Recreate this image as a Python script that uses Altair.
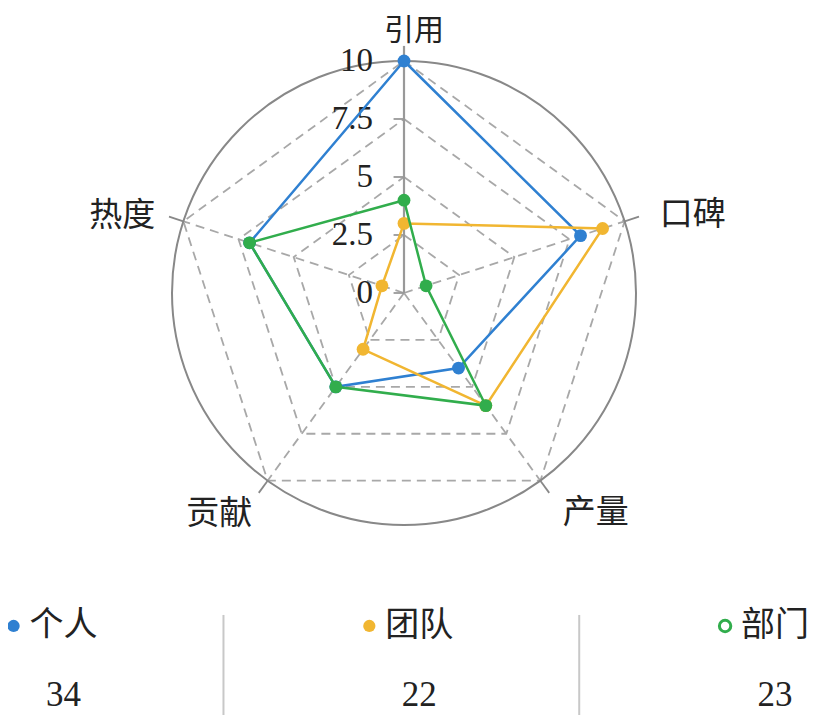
import altair as alt
import pandas as pd

# ---------------- data ----------------
dims = ["引用", "口碑", "产量", "贡献", "热度"]
series = ["个人", "团队", "部门"]
vals_person = [10, 8, 4, 5, 7]
vals_team = [3, 9, 6, 3, 1]
vals_dept = [4, 1, 6, 5, 7]
totals = [34, 22, 23]
ticks = [0, 2.5, 5, 7.5, 10]
grid_levels = [2.5, 5, 7.5, 10]
colors = ["#2f80d1", "#f1b631", "#31ad4c"]
RMAX = 10

# ---------------- frames ----------------
ser_rows = []
for s, vals in zip(series, [vals_person, vals_team, vals_dept]):
    for k in range(6):
        ser_rows.append({"series": s, "k": k, "value": vals[k % 5]})
ser_df = pd.DataFrame(ser_rows)

grid_df = pd.DataFrame([{"level": lv, "k": k} for lv in grid_levels for k in range(6)])
dim_df = pd.DataFrame({"dim": dims, "k": list(range(5))})
tick_df = pd.DataFrame({"t": ticks, "lab": [f"{t:g}" for t in ticks]})
leg_df = pd.DataFrame({"series": series, "li": [0, 1, 2], "total": [str(t) for t in totals]})
sep_df = pd.DataFrame({"sx": [0.45, 1.45]})
one_df = pd.DataFrame({"o": [0]})

# ---------------- scales ----------------
xs = alt.Scale(domain=[-17.069, 17.543], nice=False, zero=False)
ys = alt.Scale(domain=[-18.190, 12.284], nice=False, zero=False)
lxs = alt.Scale(domain=[-0.1557, 2.1015], nice=False, zero=False)
lys = alt.Scale(domain=[-8.957, 1.290], nice=False, zero=False, reverse=True)
cscale = alt.Scale(domain=series, range=colors)

ANG = "PI/2 - 2*PI*datum.k/5"
CJK = "Noto Sans CJK SC"
SERIF = "Liberation Serif"

def X(f):
    return alt.X(f, type="quantitative", scale=xs, axis=None)

def Y(f):
    return alt.Y(f, type="quantitative", scale=ys, axis=None)

layers = []

# dashed pentagon grid
layers.append(
    alt.Chart(grid_df).transform_calculate(
        ang=ANG, gx="datum.level*cos(datum.ang)", gy="datum.level*sin(datum.ang)"
    ).mark_line(stroke="#a8a8a8", strokeWidth=1.8, strokeDash=[9, 6]).encode(
        x=X("gx"), y=Y("gy"), detail="level:N", order="k:Q"
    )
)

# dashed spokes (non-top)
layers.append(
    alt.Chart(dim_df).transform_filter("datum.k > 0").transform_calculate(
        ang=ANG, x0="0", y0="0",
        sx=f"{RMAX}*cos(datum.ang)", sy=f"{RMAX}*sin(datum.ang)"
    ).mark_rule(stroke="#a8a8a8", strokeWidth=1.8, strokeDash=[9, 6]).encode(
        x=X("x0"), y=Y("y0"), x2="sx:Q", y2="sy:Q"
    )
)

# outer circle
layers.append(
    alt.Chart(one_df).transform_calculate(cx="0", cy="0").mark_point(
        shape="circle", size=(2 * RMAX * 23.2) ** 2, filled=False,
        stroke="#888888", strokeWidth=2, opacity=1
    ).encode(x=X("cx"), y=Y("cy"))
)

# angular ticks beyond circle
layers.append(
    alt.Chart(dim_df).transform_calculate(
        ang=ANG,
        ax1=f"{RMAX}*cos(datum.ang)", ay1=f"{RMAX}*sin(datum.ang)",
        ax2=f"{RMAX + 0.65}*cos(datum.ang)", ay2=f"{RMAX + 0.65}*sin(datum.ang)",
    ).mark_rule(stroke="#888888", strokeWidth=1.8).encode(
        x=X("ax1"), y=Y("ay1"), x2="ax2:Q", y2="ay2:Q"
    )
)

# radial axis line (top)
layers.append(
    alt.Chart(one_df).transform_calculate(a0="0", b0="0", b1=f"{RMAX + 0.65}").mark_rule(
        stroke="#999999", strokeWidth=2.2
    ).encode(x=X("a0"), y=Y("b0"), y2="b1:Q")
)

# radial tick marks
layers.append(
    alt.Chart(tick_df).transform_calculate(t0="-0.45", t1="0").mark_rule(
        stroke="#999999", strokeWidth=1.8
    ).encode(x=X("t0"), x2="t1:Q", y=Y("t"))
)

# radial tick labels
layers.append(
    alt.Chart(tick_df).transform_calculate(zx="0").mark_text(
        align="right", baseline="middle", dx=-31, font=SERIF, fontSize=33, color="#222222"
    ).encode(x=X("zx"), y=Y("t"), text="lab:N")
)

# dimension labels
LR = 11.5
lab_base = alt.Chart(dim_df).transform_calculate(
    ang=ANG, lx=f"{LR}*cos(datum.ang)", ly=f"{LR}*sin(datum.ang)"
)
layers.append(
    lab_base.transform_filter("datum.k == 0").mark_text(
        align="center", baseline="middle", dx=10, dy=5, font=CJK, fontSize=30, color="#222222"
    ).encode(x=X("lx"), y=Y("ly"), text="dim:N")
)
layers.append(
    lab_base.transform_filter("datum.k == 1 || datum.k == 2").mark_text(
        align="left", baseline="middle", dx=2, dy=4, font=CJK, fontSize=33, color="#222222"
    ).encode(x=X("lx"), y=Y("ly"), text="dim:N")
)
layers.append(
    lab_base.transform_filter("datum.k == 3 || datum.k == 4").mark_text(
        align="right", baseline="middle", dx=5, dy=5, font=CJK, fontSize=33, color="#222222"
    ).encode(x=X("lx"), y=Y("ly"), text="dim:N")
)

# series polygons + points
for s in series:
    base = alt.Chart(ser_df).transform_filter(alt.datum.series == s).transform_calculate(
        ang=ANG, px="datum.value*cos(datum.ang)", py="datum.value*sin(datum.ang)"
    )
    layers.append(
        base.mark_line(strokeWidth=2.5).encode(
            x=X("px"), y=Y("py"), order="k:Q",
            color=alt.Color("series:N", scale=cscale, legend=None)
        )
    )
    layers.append(
        base.transform_filter("datum.k < 5").mark_circle(size=165, opacity=1).encode(
            x=X("px"), y=Y("py"),
            color=alt.Color("series:N", scale=cscale, legend=None)
        )
    )

# ---------------- custom legend ----------------
def LX(f):
    return alt.X(f, type="quantitative", scale=lxs, axis=None)

def LY(f):
    return alt.Y(f, type="quantitative", scale=lys, axis=None)

leg_base = alt.Chart(leg_df).transform_calculate(
    dotx="datum.li - 0.14", r0="0", r1="1"
)
layers.append(
    alt.Chart(sep_df).transform_calculate(ya="-0.16", yb="1.4").mark_rule(
        stroke="#c8c8c8", strokeWidth=2
    ).encode(x=LX("sx"), y=LY("ya"), y2="yb:Q")
)
layers.append(
    leg_base.transform_filter("datum.li < 2").mark_circle(size=150, opacity=1).encode(
        x=LX("dotx"), y=LY("r0"),
        color=alt.Color("series:N", scale=cscale, legend=None)
    )
)
layers.append(
    leg_base.transform_filter("datum.li == 2").mark_point(
        shape="circle", size=130, filled=False, strokeWidth=3, opacity=1
    ).encode(
        x=LX("dotx"), y=LY("r0"),
        color=alt.Color("series:N", scale=cscale, legend=None)
    )
)
layers.append(
    leg_base.mark_text(
        align="center", baseline="middle", font=CJK, fontSize=34, color="#222222"
    ).encode(x=LX("li"), y=LY("r0"), text="series:N")
)
layers.append(
    leg_base.mark_text(
        align="center", baseline="middle", font=SERIF, fontSize=35, color="#222222"
    ).encode(x=LX("li"), y=LY("r1"), text="total:N")
)

chart = alt.layer(*layers).resolve_scale(
    x="independent", y="independent"
).properties(
    width=803, height=707, padding=0,
    autosize=alt.AutoSizeParams(type="none"),
    background="white",
).configure_view(stroke=None)

chart.save("out.html", embed_options={"renderer": "svg", "actions": False})
